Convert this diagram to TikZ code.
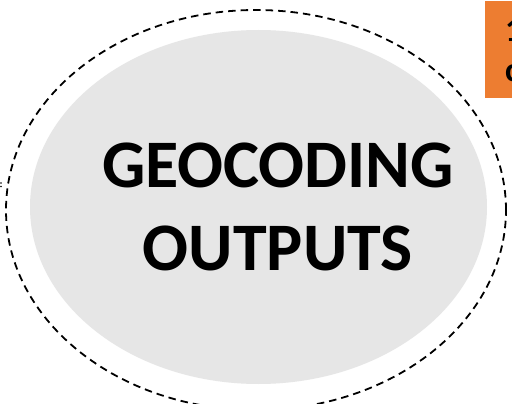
\documentclass[tikz,border=0pt]{standalone}
\usepackage{fontspec}
\setmainfont{Carlito}
\usetikzlibrary{shapes.geometric}
\definecolor{orangebox}{HTML}{ED7D31}
\definecolor{fillgray}{HTML}{E6E6E6}
\tikzset{
  frameellipse/.style={ellipse, draw=black, line width=1.8pt, dash pattern=on 7.5pt off 5pt, inner sep=0pt, minimum width=500pt, minimum height=400pt},
  grayellipse/.style={ellipse, fill=fillgray, inner sep=0pt, minimum width=457pt, minimum height=354pt},
  titletext/.style={font=\fontsize{68}{83}\selectfont\bfseries, align=center, inner sep=0pt},
  boxtext/.style={font=\fontsize{34}{40}\selectfont\bfseries, anchor=base west, inner sep=0pt}
}
\begin{document}
\begin{tikzpicture}[x=1pt,y=-1pt]
\useasboundingbox (0,0) rectangle (512,404);
\clip (0,0) rectangle (512,404);
\fill[white] (0,0) rectangle (512,404);
\node[frameellipse] (frame) at (256,210) {};
\node[grayellipse] (outputs) at (258.5,207) {};
\node[titletext] (title) at (278,207) {GEOCODING\\OUTPUTS};
\node[fill=orangebox, anchor=north west, minimum width=100pt, minimum height=97pt, inner sep=0pt] (box) at (485,1) {};
\node[boxtext] (boxa) at (505,42) {1};
\node[boxtext] (boxb) at (505,82) {c};
\fill (1,183) circle (0.8);
\fill (1,186.5) circle (0.8);
\end{tikzpicture}
\end{document}
